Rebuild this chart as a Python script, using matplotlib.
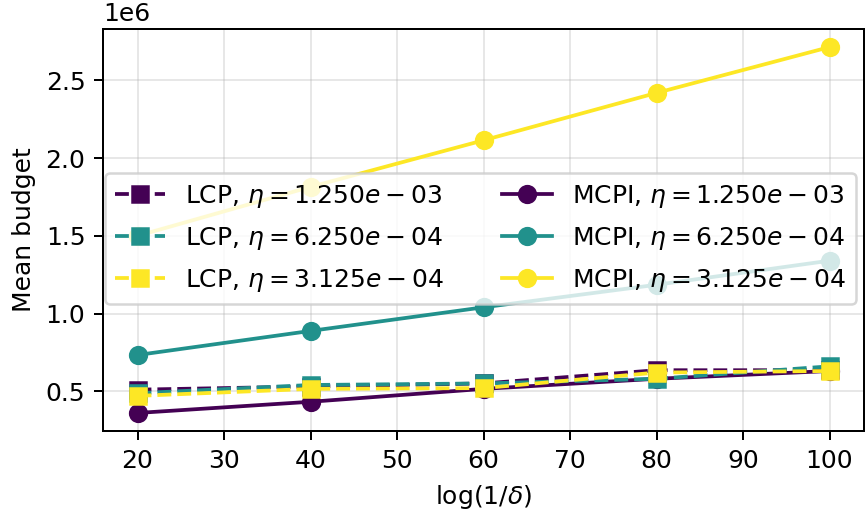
import matplotlib
matplotlib.use("Agg")
import matplotlib.pyplot as plt

# log(1/delta) values
x = [20, 40, 60, 80, 100]
etas = ["1.250e-03", "6.250e-04", "3.125e-04"]
colors = ["#440154", "#21918c", "#fde725"]

# mean budgets
lcp = [
    [0.510e6, 0.530e6, 0.550e6, 0.635e6, 0.635e6],
    [0.487e6, 0.540e6, 0.550e6, 0.580e6, 0.660e6],
    [0.470e6, 0.515e6, 0.520e6, 0.620e6, 0.630e6],
]
mcpi = [
    [0.360e6, 0.432e6, 0.515e6, 0.580e6, 0.630e6],
    [0.733e6, 0.888e6, 1.040e6, 1.185e6, 1.340e6],
    [1.500e6, 1.815e6, 2.115e6, 2.420e6, 2.715e6],
]

fig, ax = plt.subplots(figsize=(865 / 180, 514 / 180), dpi=180)
fig.subplots_adjust(left=0.119, right=0.999, top=0.944, bottom=0.161)

mcpi_handles = []
for vals, eta, c in zip(mcpi, etas, colors):
    h, = ax.plot(x, vals, "-o", color=c, lw=1.5, ms=6.7,
                 label=r"MCPI, $\eta = %s$" % eta)
    mcpi_handles.append(h)

lcp_handles = []
for vals, eta, c in zip(lcp, etas, colors):
    h, = ax.plot(x, vals, "--s", color=c, lw=1.5, ms=6.7,
                 label=r"LCP, $\eta = %s$" % eta)
    lcp_handles.append(h)

ax.grid(alpha=0.3)
ax.set_xlabel(r"log(1/$\delta$)")
ax.set_ylabel("Mean budget")
ax.legend(handles=lcp_handles + mcpi_handles, ncol=2, loc="center left",
          bbox_to_anchor=(0, 0.48), borderaxespad=0.1,
          labelspacing=0.6, columnspacing=2.3)

fig.savefig("out.png")
